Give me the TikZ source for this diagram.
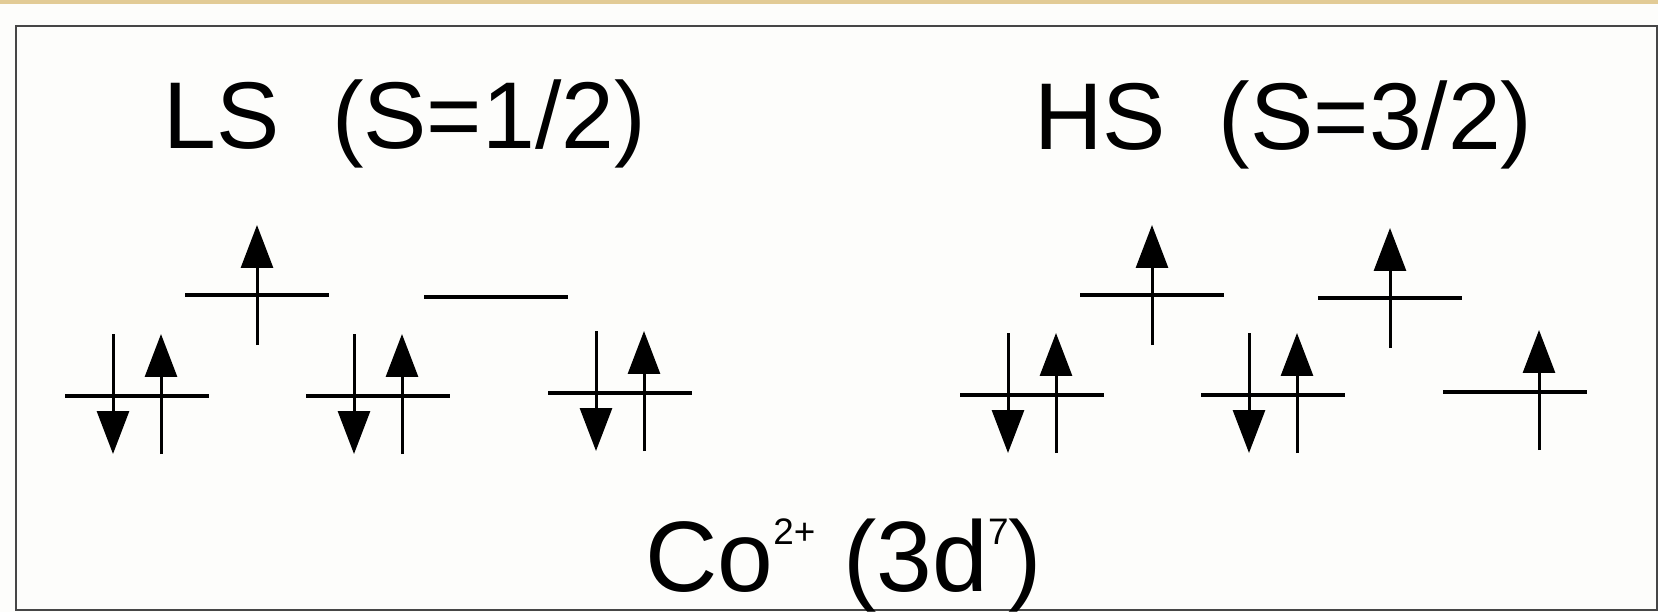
\documentclass[tikz,border=0pt]{standalone}
\usepackage{fontspec}
\setmainfont{Liberation Sans}
\usetikzlibrary{arrows.meta,calc}
\definecolor{paper}{RGB}{253,253,251}
\definecolor{tanband}{RGB}{226,203,150}
\definecolor{framec}{RGB}{70,70,70}
\newcommand{\ionsup}[1]{\raisebox{0.46em}{\fontsize{21}{23}\selectfont #1}}
\tikzset{
  lvl/.style={line width=0.085cm,black},
  spin/.style={-{Triangle[length=0.86cm,width=0.64cm]},line width=0.06cm,black},
  title/.style={anchor=base west,inner sep=0pt,font=\fontsize{54}{60}\selectfont},
  ion/.style={anchor=base west,inner sep=0pt,font=\fontsize{57}{62}\selectfont},
}

\begin{document}
\begin{tikzpicture}[x=0.02cm,y=-0.02cm]
  \useasboundingbox (0,0) rectangle (1658,612);
  \fill[paper] (0,0) rectangle (1658,612);
  \fill[tanband] (0,0) rectangle (1658,4);
  \draw[framec,line width=0.05cm] (16,26) rectangle (1657,610);

  % levels
  \foreach \n/\x/\y in {ls1/137/396,ls2/378/396,ls3/620/393,lsu1/257/295,lsu2/496/297,
                        hs1/1032/395,hs2/1273/395,hs3/1515/392,hsu1/1152/295,hsu2/1390/298}
    \coordinate (\n) at (\x,\y);
  \foreach \n in {ls1,ls2,ls3,lsu1,lsu2,hs1,hs2,hs3,hsu1,hsu2}
    \draw[lvl] ($(\n)+(-72,0)$) -- ($(\n)+(72,0)$);

  % paired electrons
  \foreach \n in {ls1,ls2,ls3,hs1,hs2} {
    \draw[spin] ($(\n)+(-24,-62)$) -- ($(\n)+(-24,58)$);
    \draw[spin] ($(\n)+(24,58)$) -- ($(\n)+(24,-62)$);
  }
  % unpaired electrons
  \foreach \n in {lsu1,hsu1,hsu2}
    \draw[spin] ($(\n)+(0,50)$) -- ($(\n)+(0,-70)$);
  \draw[spin] ($(hs3)+(24,58)$) -- ($(hs3)+(24,-62)$);

  \node[title] (lslbl) at (163,148) {LS~~(S=1/2)};
  \node[title] (hslbl) at (1034,149) {HS~~(S=3/2)};
  \node[ion] (co) at (645,591) {Co\ionsup{2+} (3d\ionsup{7})};
\end{tikzpicture}
\end{document}
